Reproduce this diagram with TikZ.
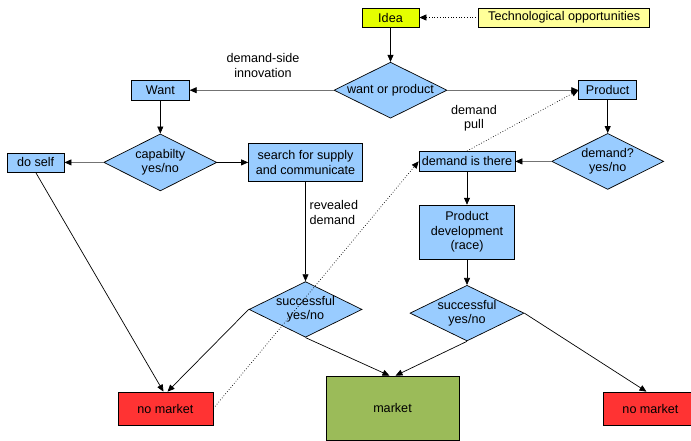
\documentclass[tikz,border=0pt]{standalone}
\usepackage{fontspec}
\setmainfont{Liberation Sans}
\usetikzlibrary{positioning,shapes.geometric,arrows.meta}

\definecolor{lblue}{RGB}{153,204,255}
\definecolor{ideacol}{RGB}{229,255,0}
\definecolor{techcol}{RGB}{255,255,153}
\definecolor{nocol}{RGB}{255,51,51}
\definecolor{mktcol}{RGB}{155,187,89}

\tikzset{
  box/.style={draw,fill=lblue,inner sep=0pt,align=center},
  decision/.style={draw,diamond,fill=lblue,inner sep=0pt,aspect=2,align=center},
  arr/.style={-{Triangle[length=7pt,width=6pt]}},
  grayline/.style={draw=black!55,-{Triangle[length=7pt,width=6pt,black]}}
}

\begin{document}
\begin{tikzpicture}[x=1pt,y=-1pt,line width=0.7pt,font=\fontsize{12.6}{14.5}\selectfont]
\clip (0,0) rectangle (691,440);

\node[box,fill=ideacol,minimum width=57pt,minimum height=19pt](idea) at (390.5,17.5){Idea};
\node[box,fill=techcol,minimum width=171pt,minimum height=19pt,right=59pt of idea](tech){Technological opportunities};
\node[decision,minimum width=113pt,minimum height=56pt,below=34.5pt of idea](wop){want or product};
\node[box,minimum width=58pt,minimum height=19pt,right=131pt of wop](product){Product};
\node[box,minimum width=58pt,minimum height=20pt,left=144pt of wop](want){Want};
\path (idea) edge[arr] (wop);
\path (tech) edge[arr,dotted] (idea);
\path (wop) edge[grayline] (want);
\path (wop) edge[grayline] (product);

\node[decision,minimum width=113pt,minimum height=57pt,below=33pt of want](cap){capabilty\\yes/no};
\node[box,minimum width=57pt,minimum height=19pt,left=39pt of cap](doself){do self};
\node[box,minimum width=114pt,minimum height=38pt,right=31pt of cap](search){search for supply\\and communicate};
\path (want) edge[arr] (cap);
\path (cap) edge[grayline] (doself);
\path (cap) edge[arr] (search);

\node[decision,minimum width=112pt,minimum height=56pt,below=33pt of product](demandq){demand?\\yes/no};
\node[box,minimum width=96pt,minimum height=20pt,left=36pt of demandq](there){demand is there};
\node[box,minimum width=95pt,minimum height=54pt,below=33pt of there](devel){Product\\development\\(race)};
\node[decision,minimum width=114pt,minimum height=55pt,below=25.5pt of devel](succR){successful\\yes/no};
\node[decision,minimum width=113pt,minimum height=53pt,below=99.5pt of search](succL){successful\\yes/no};
\path (product) edge[arr] (demandq);
\path (demandq) edge[grayline] (there);
\path (there) edge[arr] (devel);
\path (devel) edge[arr] (succR);
\path (search) edge[arr] (succL);

\node[box,fill=nocol,minimum width=95pt,minimum height=33pt](nomL) at (165.5,408.5){no market};
\node[box,fill=mktcol,minimum width=133pt,minimum height=64pt](market) at (392.5,408){market};
\node[box,fill=nocol,minimum width=95pt,minimum height=33pt](nomR) at (650.5,408.5){no market};
\path (doself.south) edge[arr] ([xshift=-2pt]nomL.north);
\path (succL.west) edge[arr] ([xshift=2pt]nomL.north);
\path (succL.south) edge[arr] ([xshift=-3pt]market.north);
\path (succR.south) edge[arr] ([xshift=3pt]market.north);
\path (succR.east) edge[arr] ([xshift=-4pt]nomR.north);

\path (nomL.east) edge[arr,dotted] (there.west);
\path (there.north) edge[arr,dotted] (product.west);

\node[align=center](dsi) at (263,65.5){demand-side\\innovation};
\node[align=center](dpull) at (474,118){demand\\pull};
\node[align=left,anchor=west](rdem) at (306,212.5){revealed\\demand};

\end{tikzpicture}
\end{document}
